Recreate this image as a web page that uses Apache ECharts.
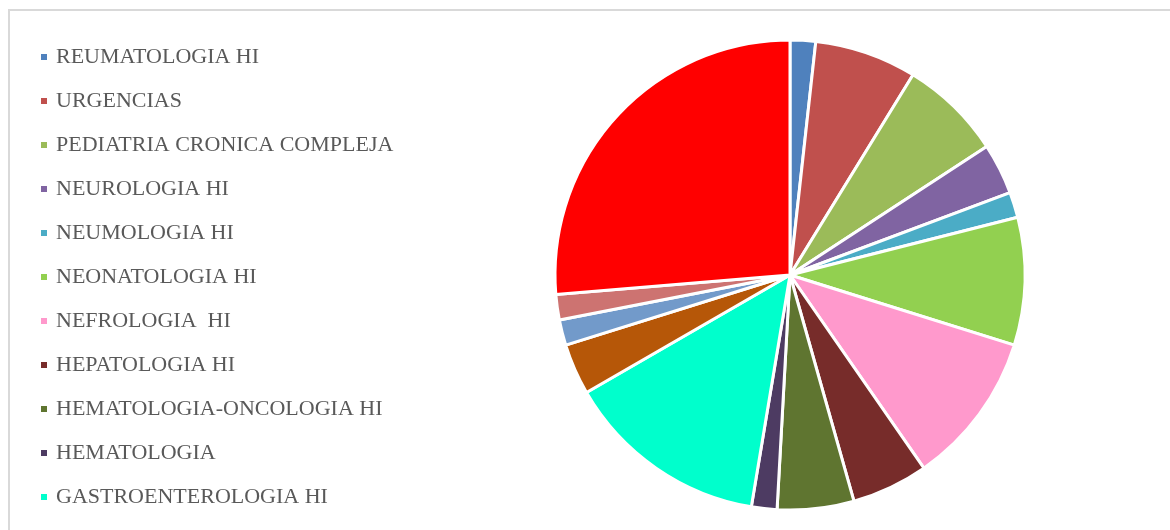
<!DOCTYPE html>
<html>
<head>
<meta charset="utf-8">
<script src="https://cdn.jsdelivr.net/npm/echarts@6/dist/echarts.min.js"></script>
<style>
html,body{margin:0;padding:0;background:#fff;}
#main{width:1170px;height:530px;}
</style>
</head>
<body>
<div id="main"></div>
<script>
// Categories (the last four are not visible in the reference legend; names unknown)
const categories = [
  'REUMATOLOGIA HI',
  'URGENCIAS',
  'PEDIATRIA CRONICA COMPLEJA',
  'NEUROLOGIA HI',
  'NEUMOLOGIA HI',
  'NEONATOLOGIA HI',
  'NEFROLOGIA  HI',
  'HEPATOLOGIA HI',
  'HEMATOLOGIA-ONCOLOGIA HI',
  'HEMATOLOGIA',
  'GASTROENTEROLOGIA HI',
  'OTRO 1',
  'OTRO 2',
  'OTRO 3',
  'OTRO 4'
];
const values = [1, 4, 4, 2, 1, 5, 6, 3, 3, 1, 8, 2, 1, 1, 15];
const colors = [
  '#4F81BD', '#C0504D', '#9BBB59', '#8064A2', '#4BACC6',
  '#92D050', '#FF99CC', '#772C2A', '#5F7530', '#4D3B62',
  '#00FFCC', '#B65708', '#729ACA', '#CD7371', '#FF0000'
];
const visibleLegend = categories.slice(0, 11);

const chart = echarts.init(document.getElementById('main'), null, {renderer: 'canvas'});
chart.setOption({
  animation: false,
  backgroundColor: '#ffffff',
  color: colors,
  graphic: [{
    type: 'rect',
    shape: {x: 9, y: 10, width: 1300, height: 700},
    style: {fill: 'none', stroke: '#D9D9D9', lineWidth: 2},
    silent: true,
    z: -1
  }],
  legend: {
    orient: 'vertical',
    left: 39,
    top: 45,
    padding: 0,
    data: visibleLegend,
    icon: 'rect',
    itemWidth: 8,
    itemHeight: 8,
    itemGap: 20,
    selectedMode: false,
    textStyle: {
      fontFamily: 'Liberation Serif',
      fontSize: 22,
      lineHeight: 24,
      color: '#595959',
      padding: [0, 0, 0, 3]
    }
  },
  series: [{
    type: 'pie',
    center: [790, 275],
    radius: 235,
    startAngle: 90,
    clockwise: true,
    label: {show: false},
    labelLine: {show: false},
    emphasis: {disabled: true},
    itemStyle: {borderColor: '#ffffff', borderWidth: 3},
    data: categories.map((n, i) => ({name: n, value: values[i]}))
  }]
});
</script>
</body>
</html>
